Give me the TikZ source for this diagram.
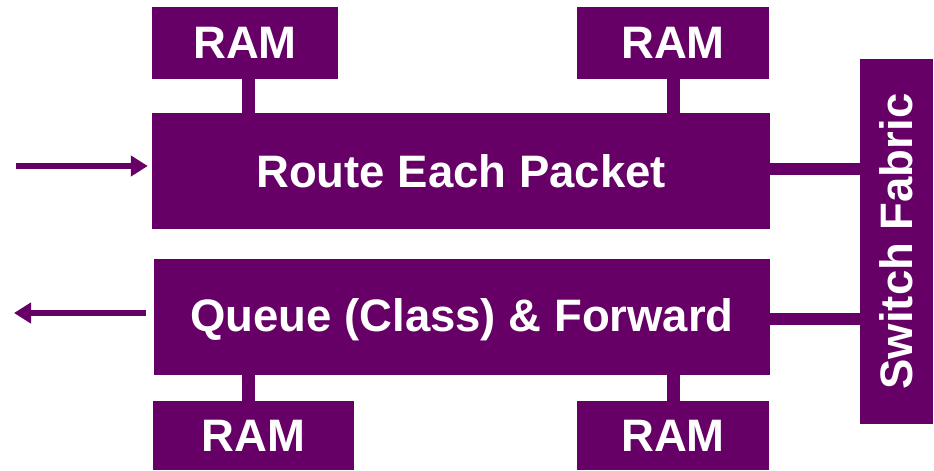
\documentclass[tikz,border=0pt]{standalone}
\usepackage{fontspec}
\setmainfont{Liberation Sans}
\usetikzlibrary{arrows.meta}
\definecolor{plum}{HTML}{660066}
\begin{document}
\begin{tikzpicture}[x=1pt,y=-1pt,
  blk/.style={fill=plum,draw=none,inner sep=0pt,text=white,
    font=\fontsize{45.5}{48}\selectfont\bfseries},
  conn/.style={draw=plum,line width=13pt},
  flow/.style={draw=plum,line width=6pt,-{Triangle[length=17pt,width=20pt]}}]
\useasboundingbox (0,0) rectangle (934,471);
% memory blocks
\node[blk,minimum width=186pt,minimum height=72pt] (ramTL) at (245,43) {RAM};
\node[blk,minimum width=192pt,minimum height=72pt] (ramTR) at (673,43) {RAM};
\node[blk,minimum width=201pt,minimum height=69pt] (ramBL) at (253.5,435.5) {RAM};
\node[blk,minimum width=192pt,minimum height=69pt] (ramBR) at (673,435.5) {RAM};
% processing stages
\node[blk,minimum width=618pt,minimum height=116pt] (route) at (461,171) {Route Each Packet};
\node[blk,minimum width=616pt,minimum height=116pt] (queue) at (462,317) {\raisebox{-3pt}[\height][\depth]{Queue (Class) \& Forward}};
% switch fabric
\node[blk,minimum width=73pt,minimum height=365pt] (fabric) at (896.5,241.5) {};
\node[text=white,font=\fontsize{45.5}{48}\selectfont\bfseries,rotate=90] (fabtxt) at (fabric.center) {Switch Fabric};
% connector positions
\coordinate (cl) at (248,0);
\coordinate (cr) at (673,0);
\coordinate (hu) at (0,169);
\coordinate (hl) at (0,319);
\coordinate (inS) at (16,166);
\coordinate (outE) at (14,313);
% memory links
\draw[conn] (ramTL.south -| cl) -- (route.north -| cl);
\draw[conn] (ramTR.south -| cr) -- (route.north -| cr);
\draw[conn] (ramBL.north -| cl) -- (queue.south -| cl);
\draw[conn] (ramBR.north -| cr) -- (queue.south -| cr);
% fabric links
\draw[draw=plum,line width=12pt] (route.east |- hu) -- (fabric.west |- hu);
\draw[draw=plum,line width=12pt] (queue.east |- hl) -- (fabric.west |- hl);
% packet in / out
\draw[flow,shorten >=4pt] (inS) -- (route.west |- inS);
\draw[flow,shorten <=8pt] (queue.west |- outE) -- (outE);
\end{tikzpicture}
\end{document}
